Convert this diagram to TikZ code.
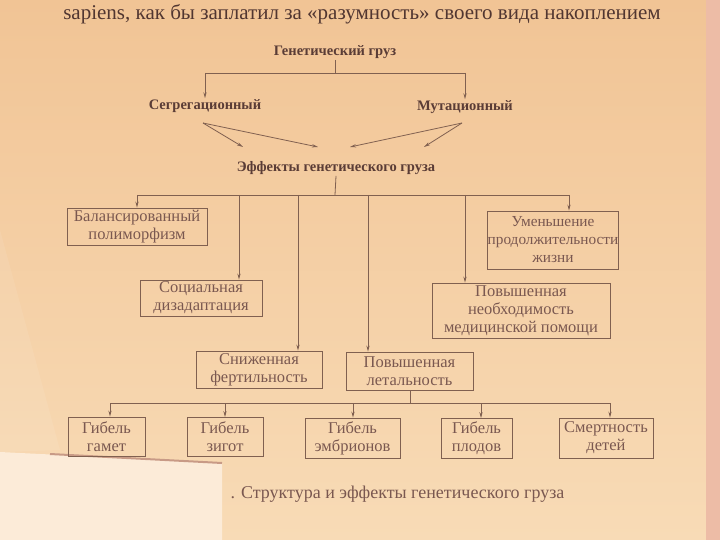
\documentclass[tikz,border=0pt]{standalone}
\usepackage{fontspec}
\setmainfont{Liberation Serif}
\usetikzlibrary{arrows.meta}
\definecolor{bgtop}{HTML}{F1C495}
\definecolor{bgbot}{HTML}{F8DBB6}
\definecolor{paperc}{HTML}{FCEBD8}
\definecolor{shadowc}{HTML}{C89A86}
\definecolor{edgec}{HTML}{EDBCA6}
\definecolor{ink}{HTML}{5A3C36}
\definecolor{boxink}{HTML}{7A5850}
\definecolor{linec}{HTML}{806050}
\begin{document}
\begin{tikzpicture}[x=1pt,y=-1pt,
  arr/.style={draw=linec, line width=0.8pt, -{Stealth[length=6pt,width=3.2pt]}},
  ln/.style={draw=linec, line width=0.8pt},
  head/.style={font=\fontsize{14.5}{16}\selectfont\bfseries, text=ink, inner sep=1pt},
  bx/.style={draw=linec, line width=0.8pt, align=center, inner sep=0pt,
    font=\fontsize{16.5}{18}\selectfont, text=boxink}]
\useasboundingbox (0,0) rectangle (720,540);
\shade[top color=bgtop, bottom color=bgbot] (0,0) rectangle (720,540);
\fill[white, opacity=0.08] (0,230) -- (60,450) -- (0,452) -- cycle;
\fill[edgec] (706,0) rectangle (720,540);
\fill[paperc] (0,452) -- (222,463) -- (222,540) -- (0,540) -- cycle;
\draw[shadowc, line width=2pt] (50,454) -- (222,463);

% top text line
\node[font=\fontsize{21}{23}\selectfont, text=ink!90!black, anchor=base] (topline) at (362,20)
  {sapiens, как бы заплатил за «разумность» своего вида накоплением};

% headings
\node[head] (gen) at (335,52) {Генетический груз};
\node[head] (seg) at (205,106) {Сегрегационный};
\node[head] (mut) at (465,107) {Мутационный};
\node[head] (eff) at (336,168) {Эффекты генетического груза};

\coordinate (g1) at (335,73);
\coordinate (gl) at (205,73);
\coordinate (gr) at (465,73);
\draw[ln] (gen.south) -- (g1);
\draw[ln] (gl) -- (gr);
\draw[arr] (gl) -- (gl |- seg.north);
\draw[arr] (gr) -- (gr |- mut.north);

\coordinate (s0) at (203,123);
\coordinate (m0) at (462,123);
\coordinate (t1) at (243,147);
\coordinate (t2) at (318,147);
\coordinate (t3) at (350,147);
\coordinate (t4) at (424,147);
\draw[arr] (s0) -- (t1);
\draw[arr] (s0) -- (t2);
\draw[arr] (m0) -- (t3);
\draw[arr] (m0) -- (t4);

% effect boxes
\node[bx, minimum width=140, minimum height=37] (bal) at (137,226.5) {Балансированный\\полиморфизм};
\node[bx, minimum width=122, minimum height=36] (soc) at (201,298) {Социальная\\дизадаптация};
\node[bx, minimum width=126, minimum height=37] (sniz) at (259,369.5) {Сниженная\\фертильность};
\node[bx, minimum width=127, minimum height=38] (let) at (409.5,371) {Повышенная\\летальность};
\node[bx, minimum width=178, minimum height=55] (med) at (521,310.5) {Повышенная\\необходимость\\медицинской помощи};
\node[bx, minimum width=125, minimum height=58, font=\fontsize{15.3}{18}\selectfont] (umen) at (553,240) {Уменьшение\\продолжительности\\жизни};

\coordinate (e0) at (335,195);
\coordinate (b1) at (137,195);
\coordinate (b2) at (239,195);
\coordinate (b3) at (298,195);
\coordinate (b4) at (368,195);
\coordinate (b5) at (465,195);
\coordinate (b6) at (569,195);
\draw[ln] (eff.south) -- (e0);
\draw[ln] (b1) -- (b6);
\draw[arr] (b1) -- (b1 |- bal.north);
\draw[arr] (b2) -- (b2 |- soc.north);
\draw[arr] (b3) -- (b3 |- sniz.north);
\draw[arr] (b4) -- (b4 |- let.north);
\draw[arr] (b5) -- (b5 |- med.north);
\draw[arr] (b6) -- (b6 |- umen.north);

% bottom boxes
\node[bx, minimum width=77, minimum height=39] (gam) at (106.5,436.5) {Гибель\\гамет};
\node[bx, minimum width=76, minimum height=39] (zig) at (225,437) {Гибель\\зигот};
\node[bx, minimum width=95, minimum height=40] (emb) at (352.5,438) {Гибель\\эмбрионов};
\node[bx, minimum width=71, minimum height=40] (plod) at (476.5,438.5) {Гибель\\плодов};
\node[bx, minimum width=94, minimum height=40] (smer) at (606,438) {Смертность\\детей};

\coordinate (l0) at (410,403);
\coordinate (c1) at (110,403);
\coordinate (c2) at (225,403);
\coordinate (c3) at (353,403);
\coordinate (c4) at (481,403);
\coordinate (c5) at (610,403);
\draw[ln] (l0 |- let.south) -- (l0);
\draw[ln] (c1) -- (c5);
\draw[arr] (c1) -- (c1 |- gam.north);
\draw[arr] (c2) -- (c2 |- zig.north);
\draw[arr] (c3) -- (c3 |- emb.north);
\draw[arr] (c4) -- (c4 |- plod.north);
\draw[arr] (c5) -- (c5 |- smer.north);

% caption
\node[font=\fontsize{18}{20}\selectfont, text=boxink, anchor=base west] (cap) at (227,498)
  {. Структура и эффекты генетического груза};
\end{tikzpicture}
\end{document}
